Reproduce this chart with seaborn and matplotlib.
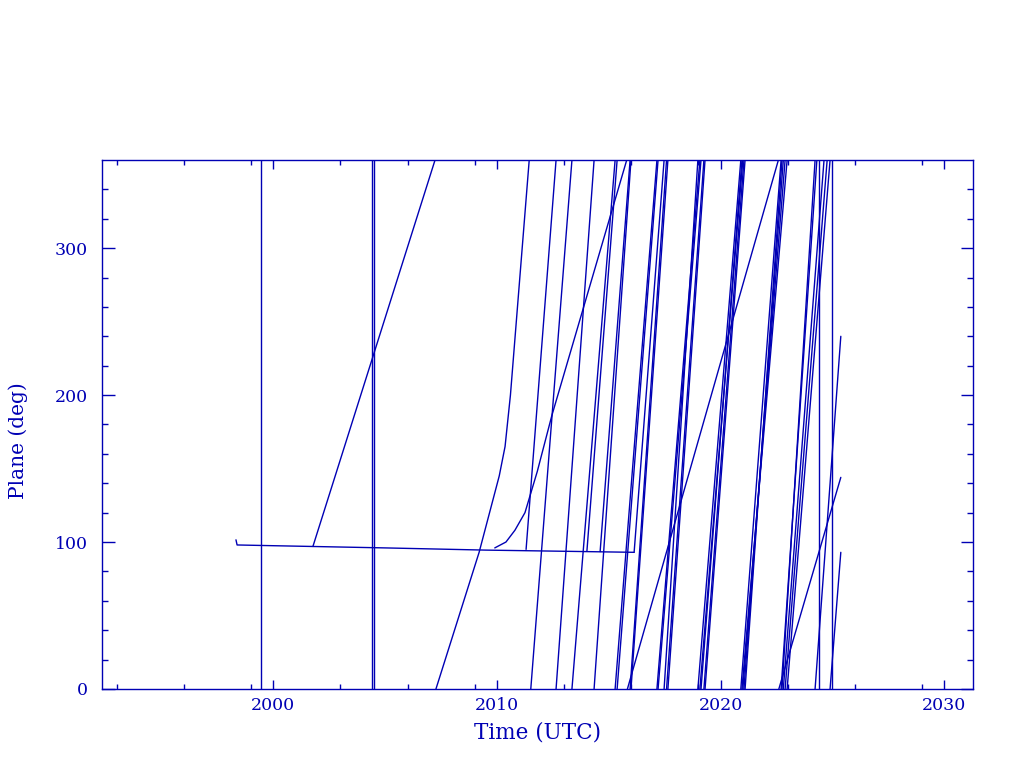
import matplotlib
matplotlib.use("Agg")
import matplotlib.pyplot as plt
from matplotlib.ticker import FixedLocator
import seaborn as sns
import pandas as pd

# ---------------- data (time in decimal years, plane in degrees) ----------------
# common parking plane
park_t = [1998.33, 1998.38, 2000.0, 2005.0, 2009.5, 2016.13]
park_v = [101.5, 98.0, 97.5, 96.0, 94.5, 93.0]

# object 1: slow drift, then fast drift
b_t = [2001.77, 2007.23]
b_v = [97.0, 360.0]
c_t = [2007.27, 2009.20, 2010.10, 2010.36, 2010.60, 2011.44]
c_v = [0.0, 93.0, 145.0, 165.0, 200.0, 360.0]

# object 2: slow drift
d_t = [2009.90, 2010.40, 2010.80, 2011.25, 2011.80, 2012.45, 2015.80]
d_v = [96.0, 100.0, 108.0, 120.0, 148.0, 186.0, 360.0]
e_t = [2015.83, 2022.58]
e_v = [0.0, 360.0]
e2_t = [2022.60, 2025.37]
e2_v = [0.0, 144.0]

# fast drifting objects: start point, wrap times (360 -> 0), end point
chain_start_t = [2011.51, 2011.30, 2014.02, 2014.61, 2016.13]
chain_start_v = [0.0, 95.0, 94.0, 93.5, 93.0]
chain_wraps = [
    [2013.35, 2015.28, 2017.15, 2019.07, 2020.99, 2022.88],
    [2012.64, 2014.34, 2015.99, 2017.64, 2019.30, 2021.09, 2022.74, 2024.22],
    [2015.37, 2017.20, 2019.12, 2020.95, 2022.97, 2024.89],
    [2015.95, 2017.58, 2019.25, 2021.04, 2022.80],
    [2017.47, 2018.98, 2020.90, 2022.70],
]
chain_end_t = [2024.76, 2025.37, 2025.37, 2024.62, 2024.30]
chain_end_v = [360.0, 240.0, 93.0, 360.0, 360.0]

# vertical jumps
vert_t = [1999.45, 2004.41, 2004.50, 2024.40, 2024.99]

# ---------------- style ----------------
BLUE = "#0000b4"
sns.set_theme(style="white")
plt.rcParams['font.family'] = ['DejaVu Serif']

fig = plt.figure(figsize=(10.24, 7.68), dpi=100)
ax = fig.add_axes([0.0996, 0.1029, 0.8506, 0.6888])

def draw(t, v):
    df = pd.DataFrame({"t": t, "v": v})
    sns.lineplot(data=df, x="t", y="v", ax=ax, color=BLUE, lw=1.0,
                 sort=False, estimator=None)

draw(park_t, park_v)
draw(b_t, b_v)
draw(c_t, c_v)
draw(d_t, d_v)
draw(e_t, e_v)
draw(e2_t, e2_v)

for st, sv, wraps, et, ev in zip(chain_start_t, chain_start_v, chain_wraps,
                                 chain_end_t, chain_end_v):
    t0, v0 = st, sv
    for w in wraps:
        draw([t0, w], [v0, 360.0])
        t0, v0 = w, 0.0
    draw([t0, et], [v0, ev])

for t in vert_t:
    draw([t, t], [0.0, 360.0])

ax.set_xlim(1992.34, 2031.28)
ax.set_ylim(0, 360)

ax.xaxis.set_major_locator(FixedLocator([2000, 2010, 2020, 2030]))
ax.xaxis.set_minor_locator(FixedLocator([1993, 1996, 1999, 2003, 2006, 2009,
                                         2013, 2016, 2019, 2023, 2026, 2029]))
ax.yaxis.set_major_locator(FixedLocator([0, 100, 200, 300]))
ax.yaxis.set_minor_locator(FixedLocator([v for v in range(20, 360, 20) if v % 100]))

ax.tick_params(axis="x", which="major", direction="in", length=6.5, width=1,
               top=True, bottom=True, color=BLUE, labelcolor=BLUE, labelsize=12.5, pad=6)
ax.tick_params(axis="x", which="minor", direction="in", length=3.5, width=1,
               top=True, bottom=True, color=BLUE)
ax.tick_params(axis="y", which="major", direction="in", length=9, width=1,
               left=True, right=True, color=BLUE, labelcolor=BLUE, labelsize=12.5, pad=10)
ax.tick_params(axis="y", which="minor", direction="in", length=4.5, width=1,
               left=True, right=True, color=BLUE)

for sp in ax.spines.values():
    sp.set_color(BLUE)
    sp.set_linewidth(1.0)

ax.set_xlabel("Time (UTC)", color=BLUE, fontsize=15.5, labelpad=5)
ax.set_ylabel("Plane (deg)", color=BLUE, fontsize=14.5)
ax.yaxis.set_label_coords(-0.085, 0.47)

fig.savefig("out.png", dpi=100)
